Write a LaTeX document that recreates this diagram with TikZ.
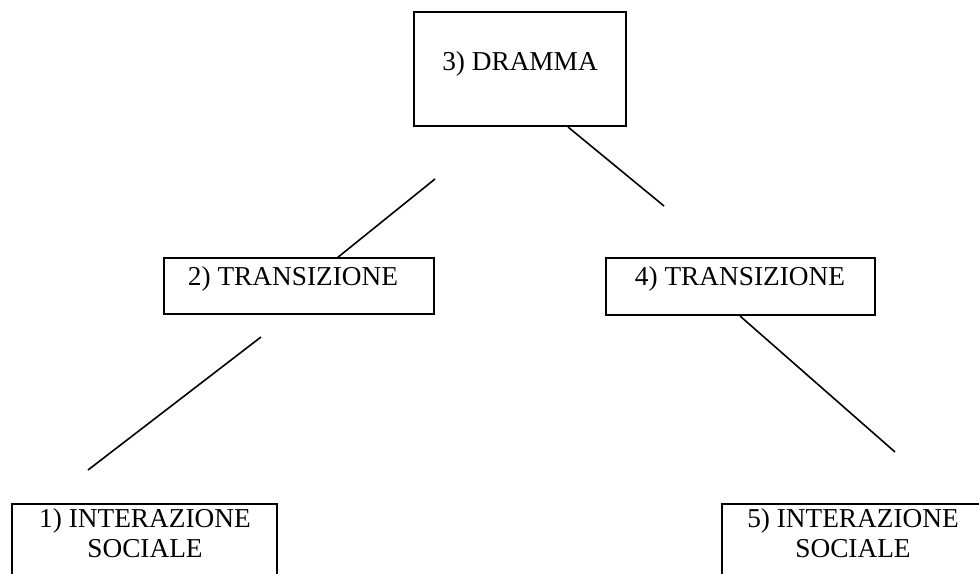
\documentclass[tikz,border=0pt]{standalone}
\usepackage{fontspec}
\setmainfont{Liberation Serif}
\begin{document}
\begin{tikzpicture}[x=1pt,y=-1pt,
  boxshape/.style={draw=black, line width=1.8pt, rectangle, inner sep=0pt},
  lbl/.style={inner sep=0pt, anchor=base, align=center, font=\fontsize{27.3}{30}\selectfont},
  conn/.style={line width=1.6pt, black}]
\useasboundingbox (0,0) rectangle (979,573);
\clip (0,0) rectangle (979,573);
% boxes
\node[boxshape, minimum width=212pt, minimum height=114pt] (b3) at (520,69) {};
\node[boxshape, minimum width=270pt, minimum height=56pt] (b2) at (299,286) {};
\node[boxshape, minimum width=269pt, minimum height=57pt] (b4) at (740.5,286.5) {};
\node[boxshape, minimum width=265pt, minimum height=120pt] (b1) at (144.5,564) {};
\node[boxshape, minimum width=265pt, minimum height=120pt] (b5) at (854.5,564) {};
% texts
\node[lbl] (t3) at (520,70) {3) DRAMMA};
\node[lbl] (t2) at (293,285) {2) TRANSIZIONE};
\node[lbl] (t4) at (740,285) {4) TRANSIZIONE};
\node[lbl] (t1) at (145,557) {1) INTERAZIONE\\SOCIALE};
\node[lbl] (t5) at (853,557) {5) INTERAZIONE\\SOCIALE};
% connector ends
\coordinate (a1) at (435,179);
\coordinate (a2) at (337,258);
\coordinate (c1) at (261,337);
\coordinate (c2) at (88,470);
\coordinate (d1) at (568,127);
\coordinate (d2) at (664,206);
\coordinate (e1) at (740,316);
\coordinate (e2) at (895,452);
\draw[conn] (a1) -- (a2);
\draw[conn] (c1) -- (c2);
\draw[conn] (d1) -- (d2);
\draw[conn] (e1) -- (e2);
\end{tikzpicture}
\end{document}
